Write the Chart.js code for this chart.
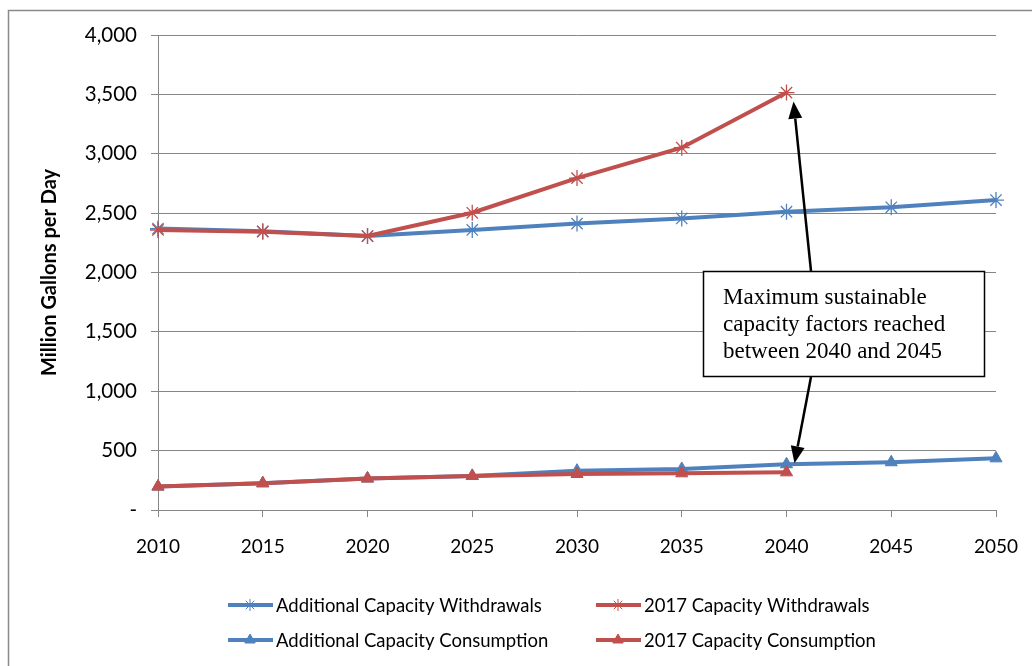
<!DOCTYPE html>
<html><head><meta charset="utf-8">
<script src="https://cdn.jsdelivr.net/npm/chart.js@4"></script>
<style>html,body{margin:0;padding:0;background:#fff;} #wrap{position:relative;width:1032px;height:666px;} canvas{display:block}</style>
</head><body><div id="wrap"><canvas id="c" width="1032" height="666"></canvas></div>
<script>
const years = ['2010','2015','2020','2025','2030','2035','2040','2045','2050'];
const additionalWithdrawals = [2370, 2347, 2307, 2358, 2412, 2455, 2512, 2549, 2610];
const capacity2017Withdrawals = [2358, 2344, 2307, 2503, 2795, 3051, 3515, null, null];
const additionalConsumption = [197, 225, 265, 287, 331, 346, 385, 402, 435];
const capacity2017Consumption = [197, 225, 265, 287, 303, 309, 317, null, null];
const seriesNames = ['Additional Capacity Withdrawals','2017 Capacity Withdrawals','Additional Capacity Consumption','2017 Capacity Consumption'];
const annotationLines = ['Maximum sustainable','capacity factors reached','between 2040 and 2045'];
const yAxisTitle = 'Million Gallons per Day';

const BLUE = '#4F81BD', RED = '#C0504D', GRID = '#868686';
const FONT = 'Lato, "Open Sans", sans-serif';

function mk(label, data, color, style, order){
  return {label, data, borderColor: color, backgroundColor: color, borderWidth: 4,
    pointStyle: style, pointRadius: style==='star'?8:7, pointHoverRadius: 7, pointBorderWidth: style==='star'?1.3:1,
    pointBorderColor: color, pointBackgroundColor: color, tension: 0, spanGaps: false, order};
}

const frame = {
  id:'frame',
  afterDraw(chart){
    const ctx = chart.ctx;
    ctx.save();
    ctx.strokeStyle = '#8a8a8a'; ctx.lineWidth = 1.5;
    ctx.beginPath(); ctx.moveTo(8.5, 666); ctx.lineTo(8.5, 10.5); ctx.lineTo(1032, 10.5); ctx.stroke();
    ctx.restore();
  }
};

function arrow(ctx, x1, y1, x2, y2){
  const ang = Math.atan2(y2-y1, x2-x1), L = 17, W = 7;
  const bx = x2 - L*Math.cos(ang), by = y2 - L*Math.sin(ang);
  ctx.beginPath(); ctx.moveTo(x1,y1); ctx.lineTo(bx,by); ctx.stroke();
  ctx.beginPath(); ctx.moveTo(x2,y2);
  ctx.lineTo(bx + W*Math.sin(ang), by - W*Math.cos(ang));
  ctx.lineTo(bx - W*Math.sin(ang), by + W*Math.cos(ang));
  ctx.closePath(); ctx.fill();
}

const annot = {
  id:'annot',
  afterDatasetsDraw(chart){
    const {ctx, scales:{x, y}} = chart;
    const L = 703, T = 271, R = 984, B = 376;
    ctx.save();
    ctx.fillStyle = '#fff'; ctx.fillRect(L, T, R-L, B-T);
    ctx.strokeStyle = '#000'; ctx.lineWidth = 1.5; ctx.strokeRect(L+0.5, T+0.5, R-L, B-T);
    ctx.fillStyle = '#000'; ctx.font = '23px "Liberation Serif", "Times New Roman", serif';
    ctx.textBaseline = 'alphabetic'; ctx.textAlign = 'left';
    annotationLines.forEach((t,i)=> ctx.fillText(t, 723, 304 + i*27));
    const i40 = years.indexOf('2040');
    const px = x.getPixelForValue(i40);
    ctx.lineWidth = 2.5; ctx.strokeStyle = '#000';
    arrow(ctx, 811, T, px + 7, y.getPixelForValue(capacity2017Withdrawals[i40]) + 9);
    arrow(ctx, 811, B+1, px + 8, y.getPixelForValue(additionalConsumption[i40]) - 1);
    ctx.restore();
  }
};

const legendPlug = {
  id:'legendPlug',
  afterDraw(chart){
    const ctx = chart.ctx;
    const pos = [[228, 605],[596, 605],[228, 640],[596, 640]];
    ctx.save();
    chart.data.datasets.forEach((ds, i) => {
      const [lx, ly] = pos[i];
      ctx.strokeStyle = ds.borderColor; ctx.lineWidth = 4;
      ctx.beginPath(); ctx.moveTo(lx, ly); ctx.lineTo(lx+45, ly); ctx.stroke();
      ctx.fillStyle = ds.borderColor; ctx.strokeStyle = ds.borderColor;
      ctx.lineWidth = 1;
      Chart.helpers.drawPoint(ctx, {pointStyle: ds.pointStyle, radius: 6, rotation: 0, borderWidth: 1}, lx+22, ly);
      ctx.fillStyle = '#000'; ctx.font = '18.5px ' + FONT; ctx.textBaseline = 'middle'; ctx.textAlign='left';
      ctx.fillText(ds.label, lx + 48, ly + 1);
    });
    ctx.restore();
  }
};

new Chart(document.getElementById('c'), {
  type: 'line',
  data: {
    labels: years,
    datasets: [
      mk(seriesNames[0], additionalWithdrawals, BLUE, 'star', 2),
      mk(seriesNames[1], capacity2017Withdrawals, RED, 'star', 1),
      mk(seriesNames[2], additionalConsumption, BLUE, 'triangle', 2),
      mk(seriesNames[3], capacity2017Consumption, RED, 'triangle', 1)
    ]
  },
  options: {
    responsive: false, animation: false, devicePixelRatio: 1,
    layout: { padding: { left: 0, right: 36, top: 35, bottom: 0 } },
    plugins: { legend: { display: false }, tooltip: { enabled: false } },
    scales: {
      x: {
        grid: { display: true, drawOnChartArea: false, drawTicks: true, tickLength: 7, color: GRID },
        border: { display: true, color: GRID },
        ticks: { font: { family: FONT, size: 19 }, color: '#000', padding: 18, maxRotation: 0, autoSkip: false },
        afterFit(s){ s.height = 156; s.paddingLeft = 0; s.paddingRight = 0; }
      },
      y: {
        min: 0, max: 4000,
        grid: { color: GRID, tickLength: 7 },
        border: { display: true, color: GRID },
        ticks: { stepSize: 500, font: { family: FONT, size: 20.5 }, color: '#000', padding: 14,
          callback: v => v === 0 ? '-' : v.toLocaleString('en-US') },
        title: { display: true, text: yAxisTitle, color: '#000',
          font: { family: FONT, size: 20, weight: 'bold' }, padding: { top: 38, bottom: 0 } },
        afterFit(s){ s.width = 158; s.paddingTop = 0; s.paddingBottom = 0; }
      }
    }
  },
  plugins: [frame, annot, legendPlug]
});
</script></body></html>
